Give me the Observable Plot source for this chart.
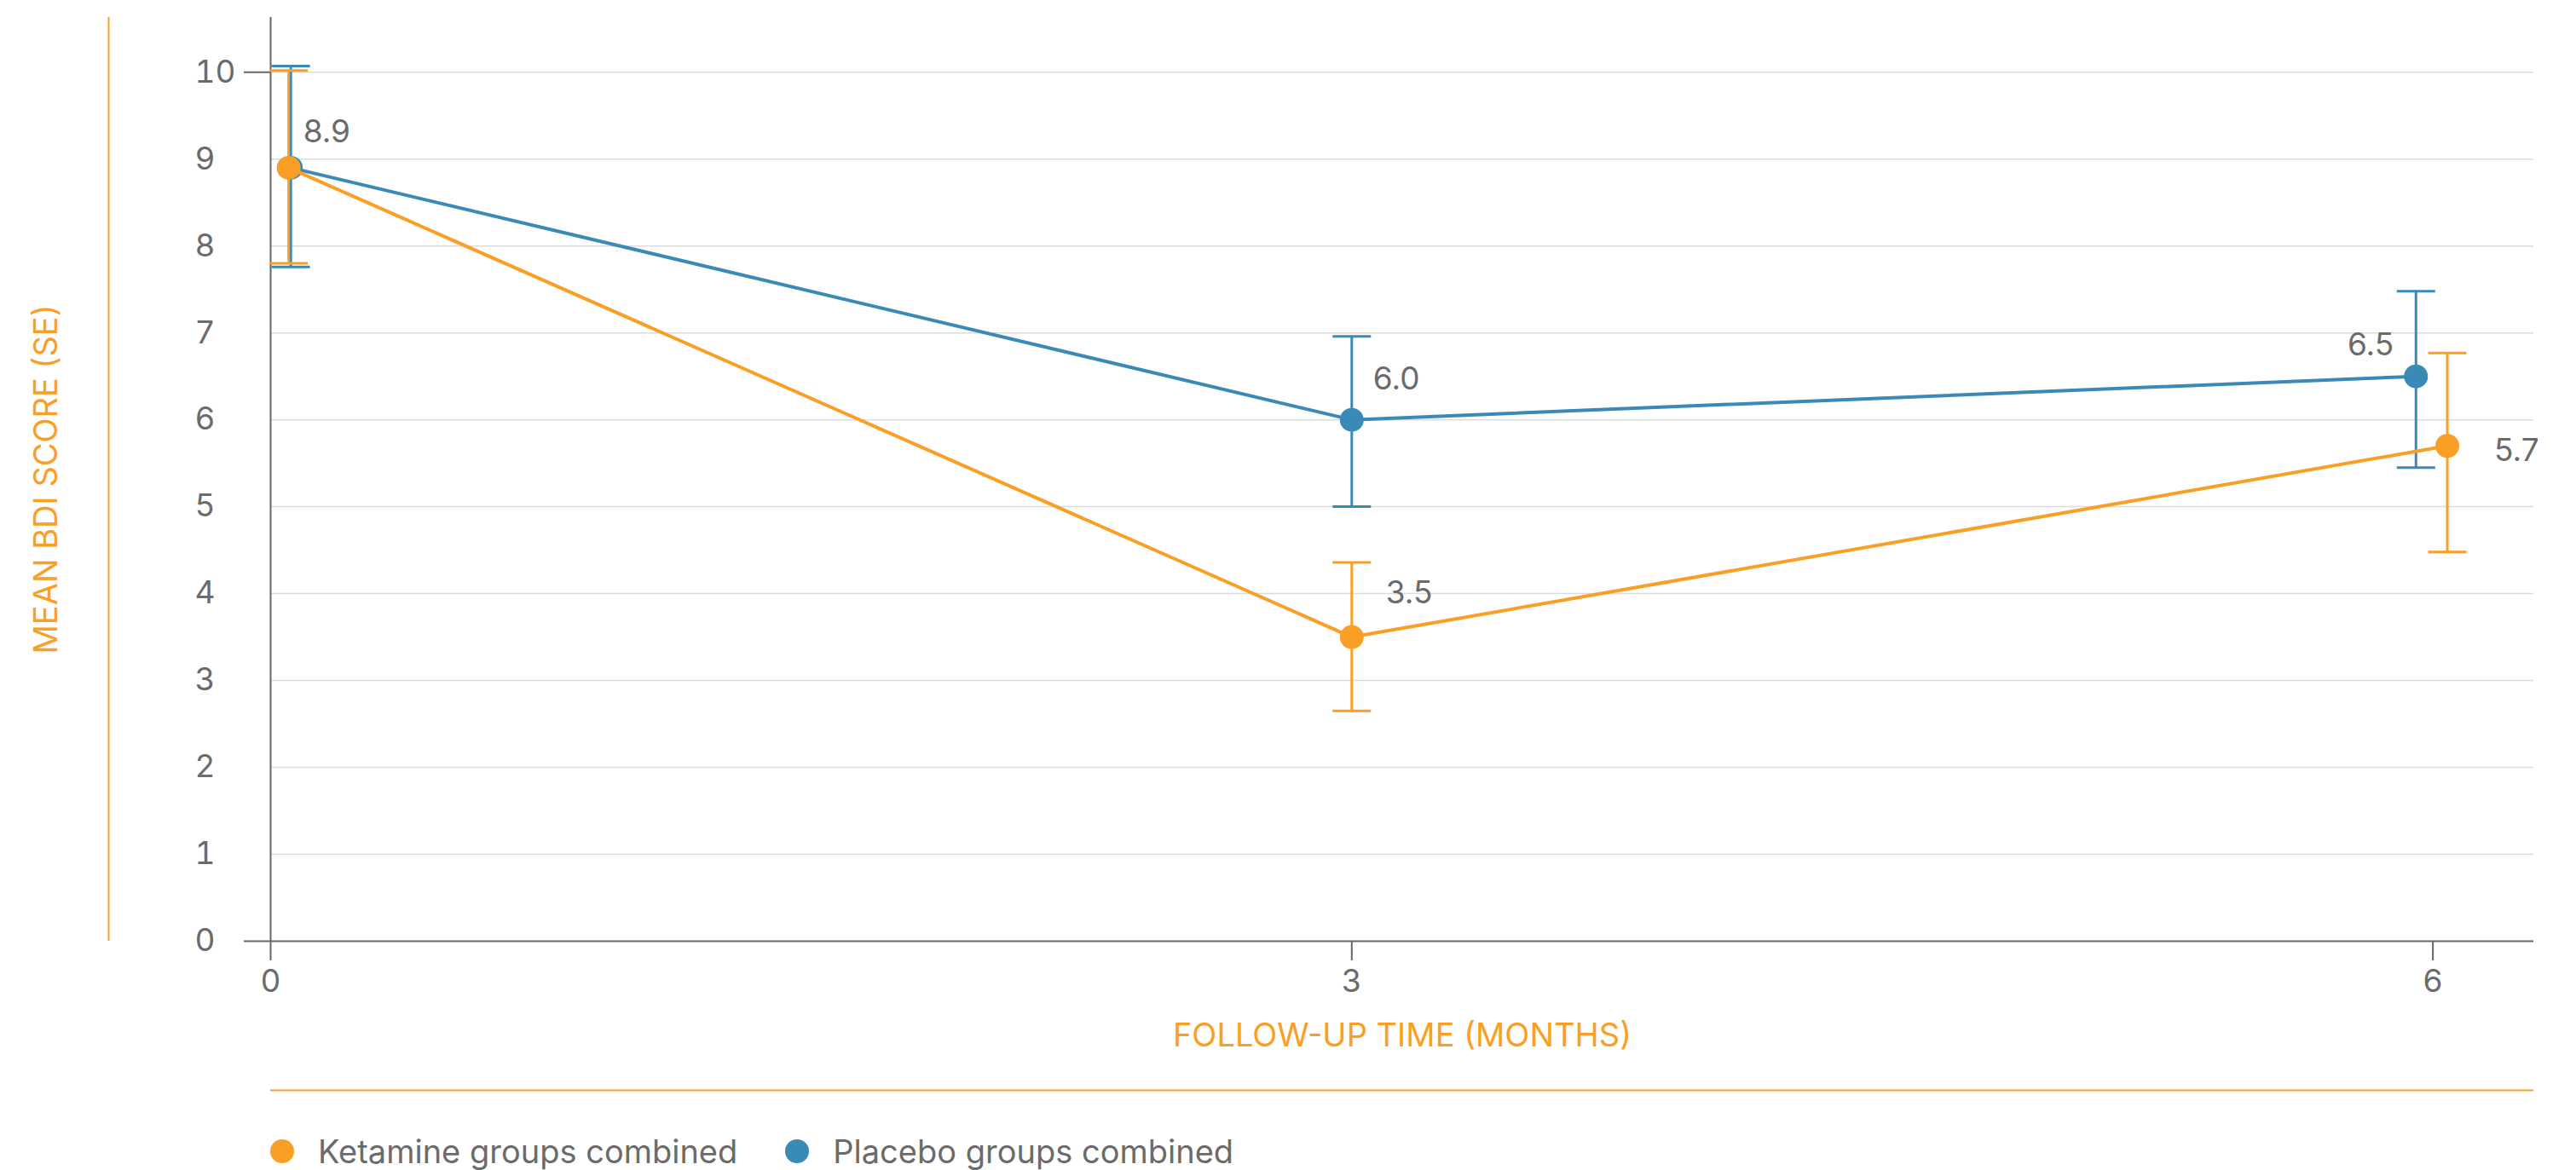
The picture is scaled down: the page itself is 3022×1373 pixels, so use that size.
<!DOCTYPE html>
<html>
<head>
<meta charset="utf-8">
<script src="https://cdn.jsdelivr.net/npm/d3@7"></script>
<script src="https://cdn.jsdelivr.net/npm/@observablehq/plot@0.6"></script>
<style>
  body { margin: 0; background: #fff; font-family: Inter, "Noto Sans", sans-serif; }
  #legend { display: flex; align-items: center; height: 44px; margin-top: 29px; padding-left: 317px; font-size: 38px; color: #6b6b6b; }
  .item { display: flex; align-items: center; margin-right: 56px; }
  .swatch { width: 28px; height: 28px; border-radius: 50%; margin-right: 28px; }
</style>
</head>
<body>
<div id="chart"></div>
<div id="legend"></div>
<script>
// Follow-up visits (months)
const months = [0, 3, 6];

// Ketamine groups combined: mean BDI and SE bar ends
const ketamineMean = [8.9, 3.5, 5.7];
const ketamineLow  = [7.8, 2.65, 4.48];
const ketamineHigh = [10.02, 4.36, 6.77];

// Placebo groups combined: mean BDI and SE bar ends
const placeboMean = [8.9, 6.0, 6.5];
const placeboLow  = [7.76, 5.0, 5.45];
const placeboHigh = [10.07, 6.96, 7.48];

// small horizontal dodge (months) so overlapping groups stay readable
const ketamineDodge = [0.05, 0, 0.04];
const placeboDodge  = [0.056, 0, -0.047];

const seriesNames = ["Ketamine groups combined", "Placebo groups combined"];
const yTicks = [0, 1, 2, 3, 4, 5, 6, 7, 8, 9, 10];
const xTicks = [0, 3, 6];
const yDomain = [0, 10.63];
const xDomain = [0, 6.28];

const ORANGE = "#F99F26";
const BLUE = "#3A8AB8";
const GREY = "#666666";
const TEXT = "#6b6b6b";

const toRows = (mean, low, high, dodge) =>
  months.map((m, i) => ({t: m + dodge[i], mean: mean[i], low: low[i], high: high[i], label: mean[i].toFixed(1)}));

const ketamine = toRows(ketamineMean, ketamineLow, ketamineHigh, ketamineDodge);
const placebo = toRows(placeboMean, placeboLow, placeboHigh, placeboDodge);

// horizontal cap drawn as a dot symbol, half-width = r
const cap = {
  draw(context, size) {
    const w = Math.sqrt(size / Math.PI);
    context.moveTo(-w, 0);
    context.lineTo(w, 0);
  }
};

const errorBars = (rows, color) => [
  Plot.ruleX(rows, {x: "t", y1: "low", y2: "high", stroke: color, strokeWidth: 3}),
  Plot.dot(rows, {x: "t", y: "low", symbol: cap, r: 22.5, stroke: color, strokeWidth: 3, fill: "none"}),
  Plot.dot(rows, {x: "t", y: "high", symbol: cap, r: 22.5, stroke: color, strokeWidth: 3, fill: "none"})
];

const valueLabel = (row, anchor, dx, dy) =>
  Plot.text([row], {x: "t", y: "mean", text: "label", textAnchor: anchor, dx, dy,
    fill: TEXT, fontSize: 37, lineAnchor: "middle"});

const plot = Plot.plot({
  width: 3022,
  height: 1300,
  marginTop: 20,
  marginLeft: 317,
  marginRight: 50,
  marginBottom: 196,
  style: {fontFamily: "Inter, 'Noto Sans', sans-serif", background: "#fff"},
  x: {domain: xDomain, axis: null},
  y: {domain: yDomain, axis: null},
  marks: [
    // horizontal grid
    Plot.gridY(yTicks.filter(d => d > 0), {stroke: "#dcdcdc", strokeOpacity: 1, strokeWidth: 1.5}),
    // y tick labels (left-aligned column)
    Plot.axisY({ticks: yTicks, tickSize: 0, tickPadding: 89, textAnchor: "start", fontSize: 37, color: TEXT, label: null}),
    // y tick mark at the top value
    Plot.axisY({ticks: [10], tickSize: 31, tickFormat: () => "", stroke: GREY, strokeWidth: 2, label: null}),
    // x ticks and labels
    Plot.axisX({ticks: xTicks, tickFormat: "d", tickSize: 23, tickPadding: 10, fontSize: 37, color: TEXT, stroke: GREY, strokeWidth: 2, label: null}),
    // axis lines
    Plot.ruleX([0], {stroke: GREY, strokeWidth: 2}),
    Plot.ruleY([0], {stroke: GREY, strokeWidth: 2}),
    Plot.axisY({ticks: [0], tickSize: 31, tickFormat: () => "", stroke: GREY, strokeWidth: 2, label: null}),
    // orange accent rules beside the axes
    Plot.ruleX([0], {stroke: ORANGE, strokeWidth: 2, dx: -190}),
    Plot.ruleY([0], {stroke: ORANGE, strokeWidth: 2, dy: 175}),
    // axis titles
    Plot.text(["MEAN BDI SCORE (SE)"], {x: xDomain[0], y: (yDomain[0] + yDomain[1]) / 2, dx: -263, rotate: -90,
      fill: ORANGE, fontSize: 38, lineAnchor: "middle", textAnchor: "middle"}),
    Plot.text(["FOLLOW-UP TIME (MONTHS)"], {frameAnchor: "bottom", dy: 111, fill: ORANGE, fontSize: 38, lineAnchor: "middle"}),
    // placebo series
    Plot.line(placebo, {x: "t", y: "mean", stroke: BLUE, strokeWidth: 4}),
    ...errorBars(placebo, BLUE),
    Plot.dot(placebo, {x: "t", y: "mean", r: 14, fill: BLUE}),
    // ketamine series
    Plot.line(ketamine, {x: "t", y: "mean", stroke: ORANGE, strokeWidth: 4}),
    ...errorBars(ketamine, ORANGE),
    Plot.dot(ketamine, {x: "t", y: "mean", r: 14, fill: ORANGE}),
    // value labels
    valueLabel(ketamine[0], "start", 17, -42),
    valueLabel(placebo[1], "start", 25, -47),
    valueLabel(ketamine[1], "start", 40, -51),
    valueLabel(placebo[2], "end", -26, -37),
    valueLabel(ketamine[2], "start", 55, 6)
  ]
});

document.getElementById("chart").appendChild(plot);

// legend below the chart
const legend = d3.select("#legend");
[[seriesNames[0], ORANGE], [seriesNames[1], BLUE]].forEach(([name, color]) => {
  const item = legend.append("div").attr("class", "item");
  item.append("div").attr("class", "swatch").style("background", color);
  item.append("span").text(name);
});
</script>
</body>
</html>
